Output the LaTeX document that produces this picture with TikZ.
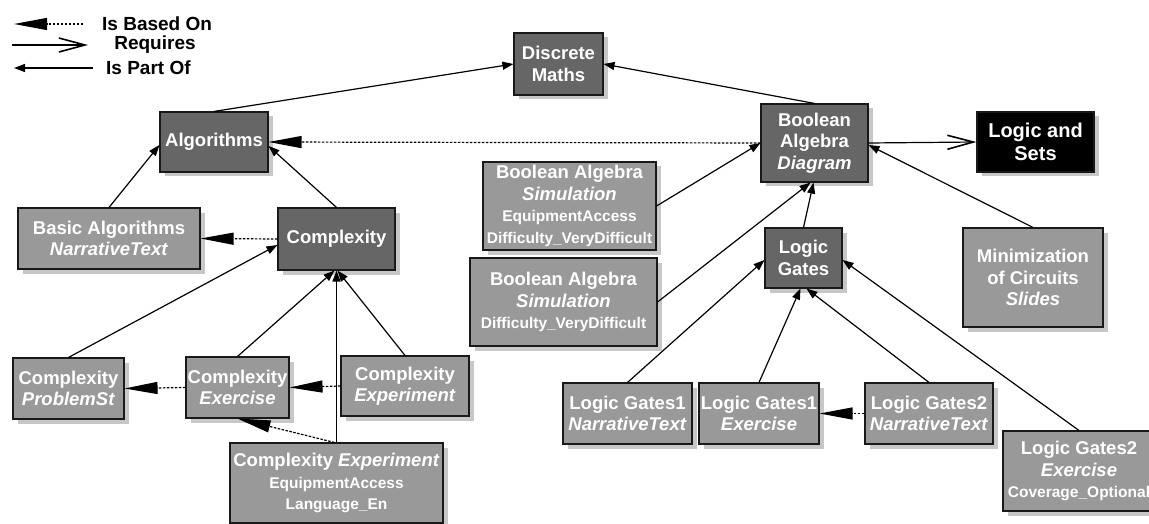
\documentclass[tikz,border=0pt]{standalone}
\usepackage{fontspec}
\setmainfont{Liberation Sans}
\usetikzlibrary{arrows.meta,shadows}
\newcommand\bigf{\fontsize{18.5}{21.5}\selectfont}
\newcommand\smallf{\fontsize{15.5}{18}\selectfont}
\tikzset{
  box/.style={draw=black!90, line width=1.1pt, text=white, font=\bfseries\bigf,
    align=center, inner sep=0pt,
    drop shadow={shadow xshift=4.5pt, shadow yshift=-4.5pt, fill=black!22, opacity=1, draw=none}},
  darkbox/.style={box, fill=black!60},
  lightbox/.style={box, fill=black!40},
  blackbox/.style={box, fill=black, font=\bfseries\fontsize{20}{23}\selectfont},
  legtext/.style={inner sep=0pt, font=\bfseries\fontsize{19}{22}\selectfont},
  partof/.style={line width=1.2pt, -{Triangle[length=11pt,width=8pt]}},
  basedon/.style={line width=1.2pt, dash pattern=on 2.5pt off 1.5pt,
    -{Triangle[length=33pt,width=12pt]}},
  requires/.style={line width=1.2pt,
    -{Straight Barb[length=26pt,width=14pt,line width=1.6pt]}},
}
\begin{document}
\begin{tikzpicture}[x=1pt,y=-1pt]
\useasboundingbox (0,0) rectangle (1149,524);
\clip (0,0) rectangle (1149,524);

% legend
\coordinate (b1) at (83,24);  \coordinate (b2) at (14,24);
\coordinate (r1) at (12,45);  \coordinate (r2) at (88,45);
\coordinate (p1) at (93,68);  \coordinate (p2) at (14,68);
\draw[basedon] (b1) -- (b2);
\draw[requires] (r1) -- (r2);
\draw[partof] (p1) -- (p2);
\node[legtext, anchor=west] (tb) at (102,24) {Is Based On};
\node[legtext] (tr) at (155,45) {Requires};
\node[legtext, anchor=west] (tp) at (106,68) {Is Part Of};

% topics
\node[darkbox, minimum width=89pt, minimum height=62pt] (dm) at (558.5,64) {Discrete\\Maths};
\node[darkbox, minimum width=108pt, minimum height=60pt] (alg) at (214,142) {Algorithms};
\node[darkbox, minimum width=107pt, minimum height=78pt] (bad) at (814.5,143) {Boolean\\Algebra\\\textit{Diagram}};
\node[blackbox, minimum width=117pt, minimum height=60pt] (ls) at (1035.5,142) {Logic and\\Sets};
\node[darkbox, minimum width=117pt, minimum height=62pt] (cx) at (336.5,239) {Complexity};
\node[darkbox, minimum width=77pt, minimum height=60pt] (lg) at (803.5,258) {Logic\\Gates};

% learning objects
\node[lightbox, minimum width=182pt, minimum height=61pt] (ba) at (109,238.5) {Basic Algorithms\\\textit{NarrativeText}};
\node[lightbox, minimum width=173pt, minimum height=88pt] (bs1) at (569.5,206) {Boolean Algebra\\\textit{Simulation}\\\smallf EquipmentAccess\\\smallf Difficulty\_VeryDifficult};
\node[lightbox, minimum width=187pt, minimum height=88pt] (bs2) at (563.5,302) {Boolean Algebra\\\textit{Simulation}\\\smallf Difficulty\_VeryDifficult};
\node[lightbox, minimum width=140pt, minimum height=99pt] (mc) at (1033,277.5) {Minimization\\of Circuits\\\textit{Slides}};
\node[lightbox, minimum width=111pt, minimum height=61pt] (cps) at (68.5,388.5) {Complexity\\\textit{ProblemSt}};
\node[lightbox, minimum width=103pt, minimum height=61pt] (cex) at (237.5,387.5) {Complexity\\\textit{Exercise}};
\node[lightbox, minimum width=128pt, minimum height=60pt] (cexp) at (405,386) {Complexity\\\textit{Experiment}};
\node[lightbox, minimum width=213pt, minimum height=80pt] (cexp2) at (336.5,483) {Complexity \textit{Experiment}\\\smallf EquipmentAccess\\\smallf Language\_En};
\node[lightbox, minimum width=129pt, minimum height=61pt] (lg1n) at (627.5,413.5) {Logic Gates1\\\textit{NarrativeText}};
\node[lightbox, minimum width=120pt, minimum height=61pt] (lg1e) at (759,413.5) {Logic Gates1\\\textit{Exercise}};
\node[lightbox, minimum width=128pt, minimum height=61pt] (lg2n) at (929,413.5) {Logic Gates2\\\textit{NarrativeText}};
\node[lightbox, minimum width=152pt, minimum height=80pt] (lg2e) at (1079,471) {Logic Gates2\\\textit{Exercise}\\\smallf Coverage\_Optional};

% is part of
\draw[partof] (alg.north) -- (dm.west);
\draw[partof] (bad.north) -- (dm.east);
\draw[partof] (ba.north) -- ([yshift=-3pt]alg.west);
\draw[partof] (cx.north) -- ([yshift=-4pt]alg.east);
\draw[partof] (cps.north) -- ([yshift=-6pt]cx.west);
\draw[partof] (cex.north) -- ([xshift=-2pt]cx.south);
\draw[partof] (cexp.north) -- ([xshift=1pt]cx.south);
\draw[partof] (cexp2.north) -- (cx.south);
\draw[partof] (bs1.east) -- (bad.west);
\draw[partof] (bs2.east) -- ([xshift=-4pt]bad.south);
\draw[partof] (lg.north) -- ([xshift=-1pt]bad.south);
\draw[partof] (mc.north) -- ([yshift=-2pt]bad.east);
\draw[partof] (lg1n.north) -- ([yshift=-2pt]lg.west);
\draw[partof] (lg1e.north) -- ([xshift=-3pt]lg.south);
\draw[partof] (lg2n.north) -- ([xshift=3pt]lg.south);
\draw[partof] (lg2e.north) -- ([yshift=-2pt]lg.east);

% is based on
\draw[basedon] (cx.west) -- (ba.east);
\draw[basedon] (bad.west) -- (alg.east);
\draw[basedon] (cexp.west) -- (cex.east);
\draw[basedon] (cex.west) -- (cps.east);
\draw[basedon] ([xshift=-2pt]cexp2.north) -- (cex.south);
\draw[basedon] (lg2n.west) -- (lg1e.east);

% requires
\draw[requires] (bad.east) -- (ls.west);
\end{tikzpicture}
\end{document}
